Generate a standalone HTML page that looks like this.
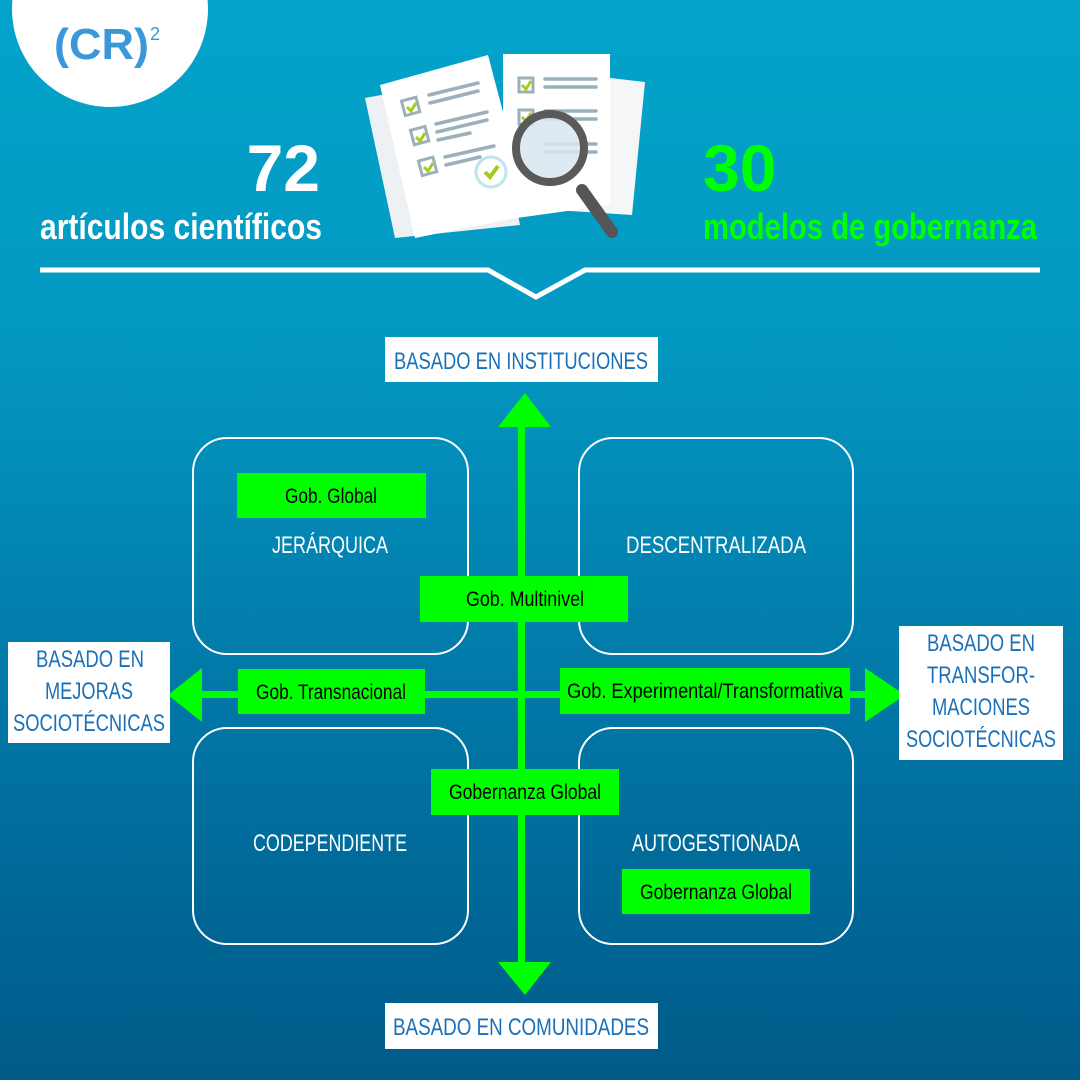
<!DOCTYPE html>
<html><head><meta charset="utf-8"><style>
html,body{margin:0;padding:0;width:1080px;height:1080px;overflow:hidden}
svg{display:block}
text{font-family:"Liberation Sans",sans-serif}
</style></head><body>
<svg width="1080" height="1080" viewBox="0 0 1080 1080" xmlns="http://www.w3.org/2000/svg">
<defs>
<linearGradient id="bg" x1="0" y1="0" x2="0" y2="1">
<stop offset="0" stop-color="#03a3cb"/>
<stop offset="0.3" stop-color="#0399c2"/>
<stop offset="0.65" stop-color="#0177a7"/>
<stop offset="1" stop-color="#005a88"/>
</linearGradient>
</defs>
<rect width="1080" height="1080" fill="url(#bg)"/>
<!-- logo -->
<circle cx="110" cy="9" r="98" fill="#fff"/>
<text x="54" y="59" font-size="44" font-weight="bold" fill="#3a98d8" textLength="95" lengthAdjust="spacingAndGlyphs">(CR)</text>
<text x="150" y="40" font-size="18" fill="#3a98d8">2</text>
<!-- stats -->
<text x="320" y="191" font-size="66" font-weight="bold" fill="#fff" text-anchor="end">72</text>
<text x="40" y="239" font-size="36" font-weight="bold" fill="#fff" textLength="282" lengthAdjust="spacingAndGlyphs">artículos científicos</text>
<text x="703" y="191" font-size="66" font-weight="bold" fill="#00ff00">30</text>
<text x="703" y="239" font-size="36" font-weight="bold" fill="#00ff00" textLength="334" lengthAdjust="spacingAndGlyphs">modelos  de gobernanza</text>
<!-- documents -->
<g>
<polygon points="365,98 490,75 520,225 395,238" fill="#eef1f3"/>
<polygon points="380,85 488,55 530,215 415,238" fill="#fff"/>
<polygon points="560,72 645,82 632,215 555,210" fill="#f4f6f7"/>
<polygon points="503,54 610,54 610,205 503,220" fill="#fff"/>
<rect x="403" y="99" width="15" height="15" fill="none" stroke="#9bb0bb" stroke-width="3" transform="rotate(-15 410 106)"/>
<rect x="412" y="128" width="15" height="15" fill="none" stroke="#9bb0bb" stroke-width="3" transform="rotate(-15 420 135)"/>
<rect x="420" y="159" width="15" height="15" fill="none" stroke="#9bb0bb" stroke-width="3" transform="rotate(-15 427 166)"/>
<g stroke="#9bb0bb" stroke-width="3.5" stroke-linecap="round">
<line x1="429" y1="95" x2="478" y2="83"/><line x1="430" y1="103" x2="478" y2="91"/>
<line x1="436" y1="124" x2="487" y2="112"/><line x1="437" y1="132" x2="487" y2="120"/><line x1="438" y1="140" x2="470" y2="133"/>
<line x1="445" y1="157" x2="494" y2="146"/><line x1="446" y1="165" x2="480" y2="157"/>
<line x1="545" y1="79" x2="596" y2="79"/><line x1="545" y1="87" x2="596" y2="87"/>
<line x1="545" y1="111" x2="596" y2="111"/><line x1="545" y1="119" x2="596" y2="119"/>
<line x1="545" y1="144" x2="596" y2="144"/><line x1="545" y1="152" x2="596" y2="152"/>
</g>
<rect x="519" y="78" width="14" height="14" fill="none" stroke="#9bb0bb" stroke-width="3"/>
<rect x="519" y="110" width="14" height="14" fill="none" stroke="#9bb0bb" stroke-width="3"/>
<g stroke="#a6cc1b" stroke-width="3" fill="none">
<polyline points="407,107 411,111 416,103"/><polyline points="416,137 420,141 425,133"/><polyline points="424,167 428,171 433,163"/>
<polyline points="522,85 526,89 531,81"/><polyline points="522,117 526,121 531,113"/>
</g>
<circle cx="491" cy="172" r="15" fill="none" stroke="#bfe4ee" stroke-width="3"/>
<polyline points="485,172 490,177 498,166" stroke="#a6cc1b" stroke-width="4" fill="none"/>
<line x1="582" y1="190" x2="612" y2="232" stroke="#555" stroke-width="12" stroke-linecap="round"/>
<circle cx="550" cy="148" r="34" fill="#d8e6ef" fill-opacity="0.85" stroke="#5a5a5a" stroke-width="8"/>
</g>
<!-- divider -->
<polyline points="40,270 488,270 536,297 585,270 1040,270" fill="none" stroke="#fff" stroke-width="5"/>
<!-- quadrant boxes -->
<g fill="none" stroke="#fff" stroke-width="2">
<rect x="193" y="438" width="275" height="216" rx="34"/>
<rect x="579" y="438" width="274" height="216" rx="34"/>
<rect x="193" y="728" width="275" height="216" rx="34"/>
<rect x="579" y="728" width="274" height="216" rx="34"/>
</g>
<!-- axes -->
<g fill="#00ff00">
<rect x="518" y="420" width="7" height="548"/>
<rect x="198" y="691" width="670" height="7"/>
<polygon points="525,393 551,427 498,427"/>
<polygon points="525,995 551,962 498,962"/>
<polygon points="168,695 202,668 202,722"/>
<polygon points="905,695 865,668 865,722"/>
</g>
<!-- axis labels -->
<g fill="#fff">
<rect x="385" y="337" width="273" height="45"/>
<rect x="385" y="1003" width="273" height="46"/>
<rect x="8" y="642" width="162" height="101"/>
<rect x="899" y="626" width="164" height="134"/>
</g>
<g fill="#1a70b8" font-size="24" text-anchor="middle">
<text x="521" y="369" textLength="254" lengthAdjust="spacingAndGlyphs">BASADO EN INSTITUCIONES</text>
<text x="521" y="1035" textLength="256" lengthAdjust="spacingAndGlyphs">BASADO EN  COMUNIDADES</text>
<text x="90" y="667" textLength="108" lengthAdjust="spacingAndGlyphs">BASADO EN</text>
<text x="89" y="699" textLength="88" lengthAdjust="spacingAndGlyphs">MEJORAS</text>
<text x="89" y="731" textLength="152" lengthAdjust="spacingAndGlyphs">SOCIOTÉCNICAS</text>
<text x="981" y="651" textLength="108" lengthAdjust="spacingAndGlyphs">BASADO EN</text>
<text x="981" y="683" textLength="108" lengthAdjust="spacingAndGlyphs">TRANSFOR-</text>
<text x="981" y="715" textLength="98" lengthAdjust="spacingAndGlyphs">MACIONES</text>
<text x="981" y="747" textLength="150" lengthAdjust="spacingAndGlyphs">SOCIOTÉCNICAS</text>
</g>
<!-- quadrant titles -->
<g fill="#fff" font-size="24" text-anchor="middle">
<text x="330" y="553" textLength="116" lengthAdjust="spacingAndGlyphs">JERÁRQUICA</text>
<text x="716" y="553" textLength="180" lengthAdjust="spacingAndGlyphs">DESCENTRALIZADA</text>
<text x="330" y="851" textLength="154" lengthAdjust="spacingAndGlyphs">CODEPENDIENTE</text>
<text x="716" y="851" textLength="168" lengthAdjust="spacingAndGlyphs">AUTOGESTIONADA</text>
</g>
<!-- green tags -->
<g fill="#00ff00">
<rect x="237" y="473" width="189" height="45"/>
<rect x="420" y="576" width="208" height="46"/>
<rect x="238" y="669" width="187" height="45"/>
<rect x="560" y="668" width="290" height="46"/>
<rect x="431" y="769" width="188" height="46"/>
<rect x="622" y="869" width="188" height="45"/>
</g>
<g fill="#000" font-size="21" text-anchor="middle">
<text x="331" y="503" textLength="92" lengthAdjust="spacingAndGlyphs">Gob. Global</text>
<text x="525" y="606" textLength="118" lengthAdjust="spacingAndGlyphs">Gob. Multinivel</text>
<text x="331" y="699" textLength="150" lengthAdjust="spacingAndGlyphs">Gob. Transnacional</text>
<text x="705" y="698" textLength="276" lengthAdjust="spacingAndGlyphs">Gob. Experimental/Transformativa</text>
<text x="525" y="799" textLength="152" lengthAdjust="spacingAndGlyphs">Gobernanza Global</text>
<text x="716" y="899" textLength="152" lengthAdjust="spacingAndGlyphs">Gobernanza Global</text>
</g>
</svg>
</body></html>
